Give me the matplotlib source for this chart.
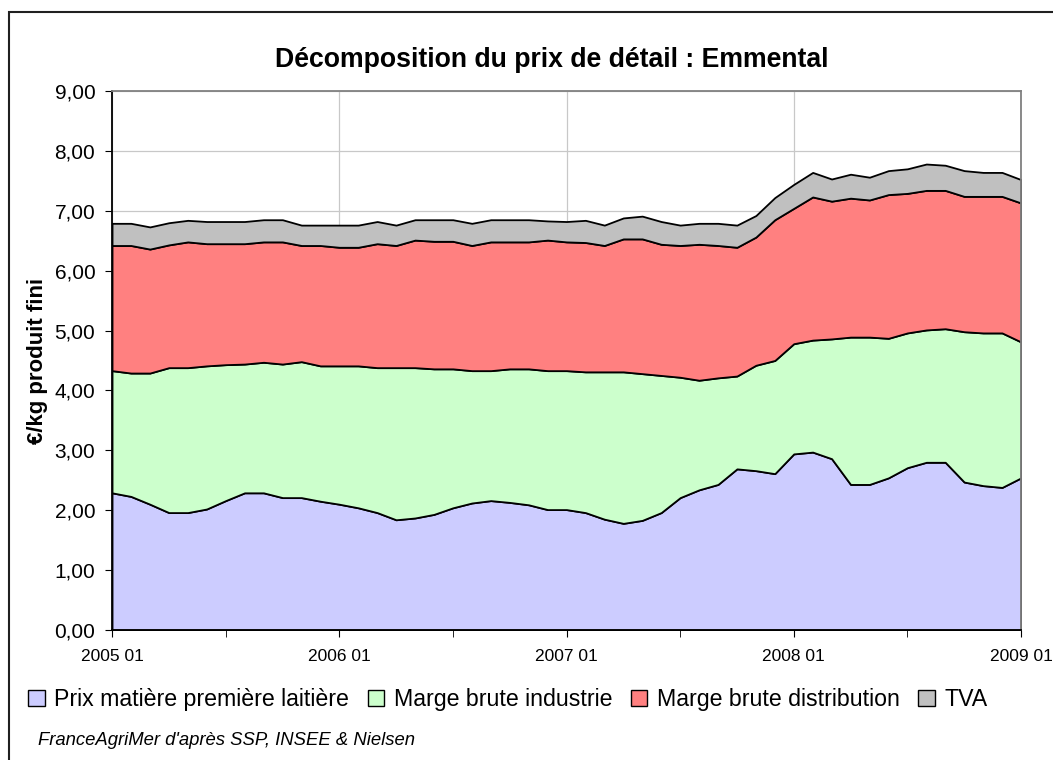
import numpy as np
import matplotlib
matplotlib.use("Agg")
import matplotlib.pyplot as plt
from matplotlib.patches import Rectangle, Patch

plt.rcParams['font.family'] = ['Liberation Sans', 'DejaVu Sans']

# monthly values, 2005 01 .. 2009 01 (EUR/kg)
prix_matiere = [2.29, 2.23, 2.10, 1.96, 1.96, 2.02, 2.16, 2.29, 2.29, 2.21, 2.21, 2.15,
                2.10, 2.04, 1.96, 1.84, 1.87, 1.93, 2.04, 2.12, 2.16, 2.13, 2.09, 2.01,
                2.01, 1.96, 1.85, 1.78, 1.83, 1.96, 2.21, 2.34, 2.43, 2.69, 2.66, 2.61,
                2.94, 2.97, 2.86, 2.43, 2.43, 2.54, 2.71, 2.80, 2.80, 2.47, 2.41, 2.38,
                2.54]
marge_industrie = [2.04, 2.06, 2.19, 2.42, 2.42, 2.39, 2.27, 2.15, 2.18, 2.23, 2.27, 2.26,
                   2.31, 2.37, 2.42, 2.54, 2.51, 2.43, 2.32, 2.21, 2.17, 2.23, 2.27, 2.32,
                   2.32, 2.35, 2.46, 2.53, 2.45, 2.29, 2.01, 1.83, 1.78, 1.55, 1.76, 1.89,
                   1.84, 1.87, 2.00, 2.46, 2.46, 2.33, 2.25, 2.21, 2.23, 2.51, 2.55, 2.58,
                   2.27]
marge_distribution = [2.09, 2.13, 2.07, 2.05, 2.10, 2.04, 2.02, 2.01, 2.01, 2.04, 1.94, 2.01,
                      1.98, 1.98, 2.07, 2.04, 2.13, 2.13, 2.13, 2.09, 2.15, 2.12, 2.12, 2.18,
                      2.15, 2.16, 2.11, 2.22, 2.25, 2.19, 2.20, 2.27, 2.21, 2.15, 2.14, 2.35,
                      2.26, 2.39, 2.30, 2.32, 2.29, 2.40, 2.33, 2.33, 2.31, 2.26, 2.28, 2.28,
                      2.32]
tva = [0.37, 0.37, 0.37, 0.37, 0.36, 0.37, 0.37, 0.37, 0.37, 0.37, 0.34, 0.34,
       0.37, 0.37, 0.37, 0.34, 0.34, 0.36, 0.36, 0.37, 0.37, 0.37, 0.37, 0.32,
       0.34, 0.37, 0.34, 0.35, 0.38, 0.38, 0.34, 0.35, 0.37, 0.37, 0.36, 0.37,
       0.40, 0.41, 0.37, 0.40, 0.38, 0.40, 0.41, 0.44, 0.42, 0.43, 0.40, 0.40,
       0.39]

series_names = ['Prix matière première laitière', 'Marge brute industrie',
                'Marge brute distribution', 'TVA']
colors = ['#CCCCFF', '#CCFFCC', '#FF8080', '#C0C0C0']
year_labels = ['2005 01', '2006 01', '2007 01', '2008 01', '2009 01']
y_ticks = np.arange(0, 9.01, 1.0)

months = np.arange(len(prix_matiere))

fig = plt.figure(figsize=(10.53, 7.6), dpi=100)
ax = fig.add_axes([0.1064, 0.1711, 0.8632, 0.7092])
ax.set_axisbelow(True)

ax.stackplot(months, prix_matiere, marge_industrie, marge_distribution, tva,
             colors=colors, edgecolor='black', linewidth=1.3)

ax.set_xlim(0, 48)
ax.set_ylim(0, 9)
ax.set_xticks(np.arange(0, 49, 12))
ax.set_xticklabels(year_labels, fontsize=12.5)
ax.set_xticks(np.arange(0, 49, 6), minor=True)
ax.set_yticks(y_ticks)
ax.set_yticklabels([f"{v:.2f}".replace('.', ',') for v in y_ticks], fontsize=15)
ax.tick_params(axis='x', which='both', direction='out', length=5, pad=9)
ax.tick_params(axis='y', direction='out', length=5, pad=7)

ax.grid(True, which='major', color='#C8C8C8', linewidth=0.9)

ax.spines['left'].set_color('black')
ax.spines['bottom'].set_color('black')
ax.spines['top'].set_color('#808080')
ax.spines['right'].set_color('#808080')
for s in ax.spines.values():
    s.set_linewidth(1.3)
    s.set_zorder(3)

ax.set_ylabel('€/kg produit fini', fontsize=16, fontweight='bold', labelpad=5)

fig.text(0.524, 0.921, 'Décomposition du prix de détail : Emmental',
         ha='center', va='center', fontsize=19.2, fontweight='bold')

handles = [Patch(facecolor=c, edgecolor='black', linewidth=1) for c in colors]
fig.legend(handles, series_names, loc='center left', bbox_to_anchor=(0.027, 0.079),
           ncol=4, frameon=False, fontsize=16.7, handlelength=0.7, handleheight=0.7,
           handletextpad=0.42, columnspacing=0.8, borderaxespad=0, borderpad=0)

fig.text(0.036, 0.026, "FranceAgriMer d'après SSP, INSEE & Nielsen",
         ha='left', va='center', fontsize=13.3, style='italic')

# outer chart frame (only top and left edges visible in the image)
fig.add_artist(Rectangle((0.0085, -0.2), 1.5, 0.9842 + 0.2, transform=fig.transFigure,
                         fill=False, edgecolor='#202020', linewidth=1.5))

fig.savefig('out.png', dpi=100)
